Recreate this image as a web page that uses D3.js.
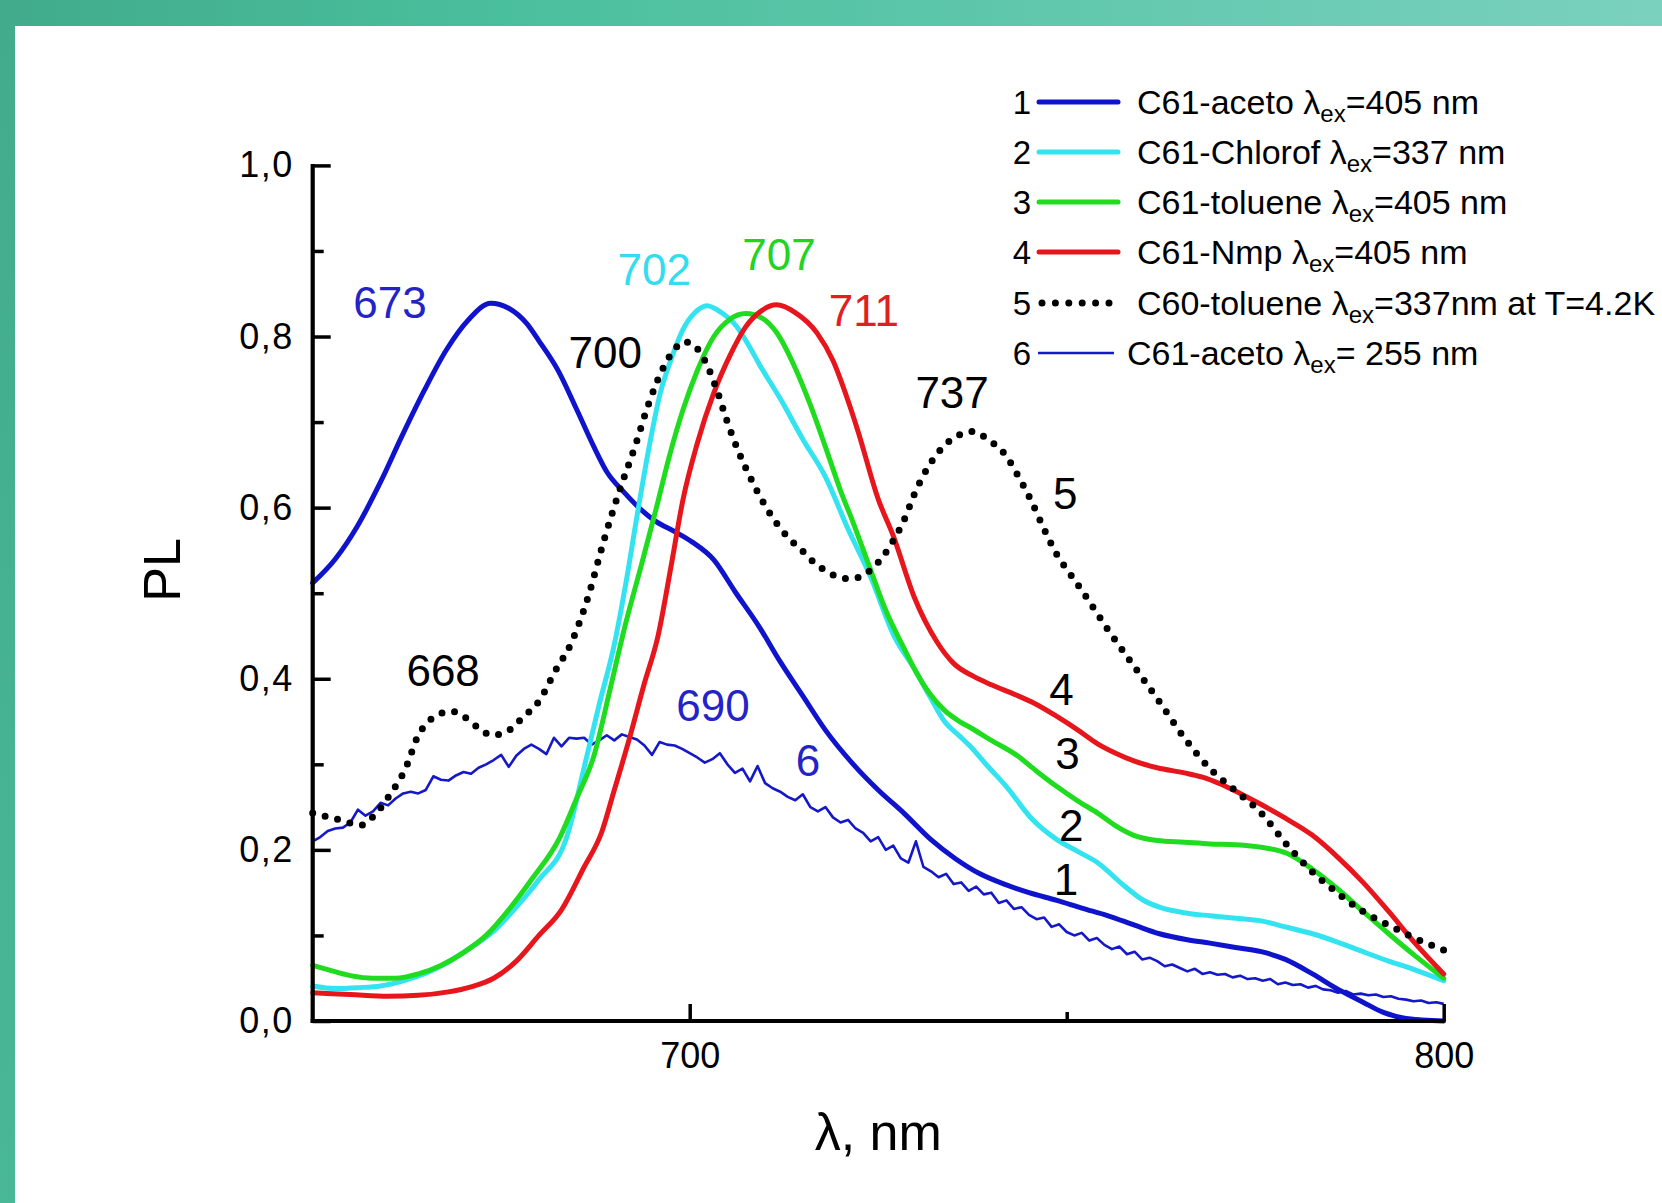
<!DOCTYPE html>
<html>
<head>
<meta charset="utf-8">
<script src="https://cdn.jsdelivr.net/npm/d3@7"></script>
<style>
  html, body { margin: 0; padding: 0; background: #ffffff; }
  svg { display: block; }
  text { font-family: "Liberation Sans", Arial, sans-serif; }
</style>
</head>
<body>
<svg id="chart" width="1662" height="1203"></svg>
<script>
// ---------------- DATA ----------------
const xTickValues = [700, 800];
const xMinorTicks = [750];
const yTickValues = [0, 0.2, 0.4, 0.6, 0.8, 1.0];
const yMinorTicks = [0.1, 0.3, 0.5, 0.7, 0.9];

// Curve 1: C61-aceto λex=405 nm
const wl1 = [650, 653, 655.9, 659, 661.8, 664.8, 667.7, 670.7, 673.6, 676, 678.4, 680, 682.5, 685, 687.3, 689, 691.4, 693.5, 695.5, 698, 700.3, 703.2, 706, 709.2, 712, 715, 718, 721.7, 725, 728.4, 732, 735.2, 738.5, 742, 745, 748.7, 752, 755.5, 759, 762.3, 766, 769, 772.4, 775.8, 779, 782.6, 786, 789.3, 792, 795, 800];
const pl1 = [0.512, 0.54, 0.578, 0.63, 0.683, 0.737, 0.784, 0.82, 0.839, 0.833, 0.815, 0.795, 0.761, 0.715, 0.671, 0.642, 0.617, 0.598, 0.584, 0.572, 0.56, 0.539, 0.502, 0.461, 0.42, 0.38, 0.34, 0.30, 0.27, 0.243, 0.212, 0.19, 0.172, 0.159, 0.15, 0.141, 0.132, 0.123, 0.112, 0.102, 0.095, 0.091, 0.086, 0.081, 0.072, 0.055, 0.037, 0.022, 0.01, 0.003, 0.0];

// Curve 2: C61-Chlorof λex=337 nm
const wl2 = [650, 653, 656, 659, 662, 665, 668, 671, 674, 677, 680, 683.7, 686.1, 688, 690, 691.5, 693.2, 694.6, 696.1, 697.6, 699.1, 700.7, 702.3, 704.2, 706.2, 707.8, 709.2, 712.1, 715, 718, 721, 724, 727.1, 729.9, 731.8, 733.8, 735.8, 737.2, 739.5, 742, 745.3, 748.7, 751.5, 754.1, 757.5, 760, 762.3, 766, 769, 772.4, 775.8, 779, 782.6, 786, 789.3, 792.7, 796.1, 800];
const pl2 = [0.041, 0.038, 0.039, 0.041, 0.047, 0.056, 0.069, 0.086, 0.105, 0.133, 0.165, 0.215, 0.30, 0.37, 0.44, 0.51, 0.60, 0.67, 0.734, 0.775, 0.808, 0.828, 0.836, 0.828, 0.812, 0.79, 0.768, 0.726, 0.68, 0.636, 0.575, 0.519, 0.45, 0.41, 0.38, 0.35, 0.333, 0.321, 0.298, 0.274, 0.237, 0.212, 0.198, 0.185, 0.159, 0.142, 0.133, 0.126, 0.123, 0.12, 0.117, 0.11, 0.102, 0.092, 0.081, 0.07, 0.06, 0.047];

// Curve 3: C61-toluene λex=405 nm
const wl3 = [650, 652, 655, 658, 661, 664, 667, 670, 673, 676, 679, 682.8, 685, 687.3, 689.5, 691.4, 693.5, 695.5, 697.3, 699.1, 701, 703.2, 705.3, 707.4, 709.7, 711.5, 713.9, 716, 718, 720, 721.7, 724, 726, 728.4, 729.9, 731.8, 733.8, 735.8, 737.2, 740, 743.3, 746, 748.7, 751.5, 754.1, 756.5, 758.9, 762, 765.6, 769, 772.4, 775.8, 779.2, 782.5, 786, 789.3, 792.7, 796.1, 800];
const pl3 = [0.065, 0.06, 0.053, 0.05, 0.05, 0.055, 0.065, 0.08, 0.10, 0.13, 0.165, 0.215, 0.26, 0.31, 0.39, 0.461, 0.53, 0.597, 0.66, 0.714, 0.76, 0.80, 0.82, 0.827, 0.821, 0.805, 0.765, 0.72, 0.671, 0.62, 0.582, 0.527, 0.48, 0.436, 0.41, 0.383, 0.363, 0.35, 0.343, 0.328, 0.311, 0.292, 0.274, 0.257, 0.243, 0.228, 0.217, 0.211, 0.209, 0.207, 0.206, 0.203, 0.196, 0.178, 0.154, 0.128, 0.102, 0.077, 0.05];

// Curve 4: C61-Nmp λex=405 nm
const wl4 = [650, 655, 660, 664, 668, 671, 674, 677, 680, 683, 686, 688.3, 690, 692, 694, 695.8, 697.5, 699.1, 701, 703.2, 705.3, 707.4, 709.5, 711.5, 714, 716.9, 719, 721, 722.3, 725, 727, 729.8, 732.8, 735, 737.6, 740, 743.3, 746, 748.7, 751.5, 754.1, 756.5, 758.9, 762, 765.6, 768, 770.4, 773, 775.8, 779, 782.6, 786, 789.3, 792.7, 796.1, 800];
const pl4 = [0.033, 0.031, 0.029, 0.03, 0.034, 0.04, 0.05, 0.07, 0.10, 0.13, 0.18, 0.22, 0.27, 0.33, 0.395, 0.45, 0.53, 0.609, 0.675, 0.734, 0.777, 0.811, 0.83, 0.837, 0.828, 0.804, 0.772, 0.725, 0.69, 0.61, 0.567, 0.495, 0.443, 0.418, 0.403, 0.393, 0.381, 0.37, 0.356, 0.34, 0.324, 0.313, 0.304, 0.296, 0.29, 0.285, 0.277, 0.266, 0.253, 0.237, 0.217, 0.191, 0.162, 0.128, 0.092, 0.055];

// Curve 5: C60-toluene λex=337nm at T=4.2K (dotted)
const wl5 = [650, 653.6, 656.5, 657.8, 660.2, 662.5, 663.8, 665.6, 668.4, 670, 672.2, 673.7, 675.5, 677.9, 680.1, 682.1, 684.3, 686.5, 688.6, 690.5, 692.8, 694.5, 696.3, 698, 699.2, 700.5, 702, 703.5, 705, 706.5, 708.1, 709.7, 711.5, 713.3, 714.9, 716.6, 718.3, 720, 721.5, 723.2, 725.1, 726.7, 728.4, 730, 731.8, 733.5, 735.5, 737.5, 739.5, 742, 743.5, 745.3, 747, 748.7, 750.5, 752.1, 755.5, 758.9, 762.3, 765.6, 769, 772.4, 775.8, 779.2, 782.5, 786, 789.3, 792.7, 796.1, 800];
const pl5 = [0.243, 0.235, 0.229, 0.237, 0.264, 0.299, 0.33, 0.352, 0.362, 0.356, 0.341, 0.334, 0.337, 0.355, 0.375, 0.408, 0.442, 0.495, 0.561, 0.615, 0.673, 0.72, 0.76, 0.785, 0.794, 0.79, 0.772, 0.74, 0.70, 0.665, 0.634, 0.607, 0.582, 0.563, 0.55, 0.535, 0.525, 0.518, 0.517, 0.522, 0.537, 0.557, 0.585, 0.62, 0.65, 0.67, 0.684, 0.689, 0.68, 0.66, 0.638, 0.608, 0.575, 0.545, 0.522, 0.502, 0.457, 0.415, 0.373, 0.331, 0.295, 0.269, 0.243, 0.206, 0.175, 0.149, 0.128, 0.112, 0.097, 0.083];

// Curve 6: C61-aceto λex= 255 nm (noisy, 1 nm step from 650 to 800)
const wl6 = d3.range(650, 801, 1);
const pl6 = [
  0.210, 0.215, 0.222, 0.225, 0.226, 0.232, 0.247, 0.240, 0.245, 0.255,
  0.252, 0.260, 0.266, 0.268, 0.266, 0.270, 0.286, 0.282, 0.281, 0.287,
  0.291, 0.289, 0.296, 0.300, 0.305, 0.311, 0.297, 0.310, 0.318, 0.323,
  0.318, 0.312, 0.331, 0.321, 0.331, 0.330, 0.331, 0.323, 0.328, 0.334,
  0.328, 0.335, 0.332, 0.329, 0.322, 0.311, 0.326, 0.323, 0.322, 0.318,
  0.313, 0.308, 0.302, 0.306, 0.313, 0.300, 0.290, 0.295, 0.280, 0.298,
  0.278, 0.272, 0.268, 0.262, 0.258, 0.265, 0.250, 0.245, 0.250, 0.238,
  0.232, 0.235, 0.225, 0.220, 0.210, 0.215, 0.200, 0.205, 0.190, 0.185,
  0.210, 0.180, 0.175, 0.168, 0.172, 0.160, 0.162, 0.152, 0.157, 0.148,
  0.150, 0.138, 0.141, 0.131, 0.133, 0.124, 0.119, 0.121, 0.110, 0.113,
  0.104, 0.100, 0.103, 0.094, 0.097, 0.089, 0.084, 0.087, 0.078, 0.081,
  0.072, 0.074, 0.070, 0.064, 0.066, 0.062, 0.058, 0.061, 0.055, 0.057,
  0.054, 0.055, 0.051, 0.053, 0.049, 0.050, 0.047, 0.049, 0.043, 0.045,
  0.042, 0.043, 0.039, 0.041, 0.037, 0.036, 0.033, 0.035, 0.031, 0.032,
  0.030, 0.031, 0.028, 0.029, 0.026, 0.025, 0.023, 0.024, 0.021, 0.022,
  0.020
];

const seriesNames = ["1", "2", "3", "4", "5", "6"];
const seriesColors = ["#0f14cc", "#33e4f0", "#1fdc1f", "#e6161c", "#000000", "#1418c8"];
const legendPrefix = ["C61-aceto \u03bb", "C61-Chlorof \u03bb", "C61-toluene \u03bb", "C61-Nmp \u03bb", "C60-toluene \u03bb", "C61-aceto \u03bb"];
const legendSub = ["ex", "ex", "ex", "ex", "ex", "ex"];
const legendSuffix = ["=405 nm", "=337 nm", "=405 nm", "=405 nm", "=337nm at T=4.2K", "= 255 nm"];

// Peak / curve annotations: text, wavelength, PL value
const annoText = ["673", "702", "707", "711", "700", "737", "5", "668", "690", "6", "4", "3", "2", "1"];
const annoWl   = [660.25, 695.3, 711.85, 723.1, 688.8, 734.8, 749.8, 667.3, 703.1, 715.7, 749.3, 750.1, 750.6, 749.9];
const annoPl   = [0.840, 0.878, 0.896, 0.830, 0.781, 0.735, 0.617, 0.410, 0.369, 0.304, 0.388, 0.313, 0.229, 0.165];
const annoColor = ["#2323c8", "#33dcee", "#22d322", "#e0201e", "#000", "#000", "#000", "#000", "#2323c8", "#2323c8", "#000", "#000", "#000", "#000"];

const xLabel = "\u03bb, nm";
const yLabel = "PL";

// ---------------- DRAW ----------------
const svg = d3.select("#chart");

// decorative frame
const defs = svg.append("defs");
const gTop = defs.append("linearGradient").attr("id", "gTop").attr("x1", "0").attr("x2", "1").attr("y1", "0").attr("y2", "0");
gTop.append("stop").attr("offset", "0").attr("stop-color", "#41ab8b");
gTop.append("stop").attr("offset", "0.3").attr("stop-color", "#4abf9d");
gTop.append("stop").attr("offset", "1").attr("stop-color", "#7ad1be");
const gLeft = defs.append("linearGradient").attr("id", "gLeft").attr("x1", "0").attr("x2", "0").attr("y1", "0").attr("y2", "1");
gLeft.append("stop").attr("offset", "0").attr("stop-color", "#42ab8c");
gLeft.append("stop").attr("offset", "1").attr("stop-color", "#49b896");
svg.append("rect").attr("x", 0).attr("y", 0).attr("width", 1662).attr("height", 26).attr("fill", "url(#gTop)");
svg.append("rect").attr("x", 0).attr("y", 0).attr("width", 15).attr("height", 1203).attr("fill", "url(#gLeft)");

const plot = { left: 312.7, right: 1443.7, top: 165.4, bottom: 1021 };
const x = d3.scaleLinear().domain([650, 800]).range([plot.left, plot.right]);
const y = d3.scaleLinear().domain([0, 1.0]).range([plot.bottom, plot.top]);

const fmt = v => d3.format(".1f")(v).replace(".", ",");

// curves
const line = d3.line().x(d => x(d[0])).y(d => y(d[1])).curve(d3.curveMonotoneX);
const lineRaw = d3.line().x(d => x(d[0])).y(d => y(d[1])).curve(d3.curveLinear);
const zip = (a, b) => a.map((v, i) => [v, b[i]]);

const gCurves = svg.append("g");
gCurves.append("path").datum(zip(wl6, pl6)).attr("d", lineRaw)
  .attr("fill", "none").attr("stroke", seriesColors[5]).attr("stroke-width", 2.6).attr("stroke-linejoin", "round");
const smooth = [[wl1, pl1, 0], [wl2, pl2, 1], [wl3, pl3, 2], [wl4, pl4, 3]];
smooth.forEach(([w, p, i]) => {
  gCurves.append("path").datum(zip(w, p)).attr("d", line)
    .attr("fill", "none").attr("stroke", seriesColors[i]).attr("stroke-width", 5)
    .attr("stroke-linejoin", "round").attr("stroke-linecap", "round");
});
gCurves.append("path").datum(zip(wl5, pl5)).attr("d", line)
  .attr("fill", "none").attr("stroke", seriesColors[4]).attr("stroke-width", 7)
  .attr("stroke-linecap", "round").attr("stroke-dasharray", "0 12.8");

// axes
const axisG = svg.append("g");
const yAxis = d3.axisLeft(y).tickValues(yTickValues).tickSizeInner(-18).tickSizeOuter(0).tickPadding(19).tickFormat(fmt);
const yAxisMinor = d3.axisLeft(y).tickValues(yMinorTicks).tickSizeInner(-11).tickSizeOuter(0).tickFormat("");
const xAxis = d3.axisBottom(x).tickValues(xTickValues).tickSizeInner(-17).tickSizeOuter(0).tickPadding(21).tickFormat(d3.format("d"));
const xAxisMinor = d3.axisBottom(x).tickValues(xMinorTicks).tickSizeInner(-9).tickSizeOuter(0).tickFormat("");

const gy = axisG.append("g").attr("transform", `translate(${plot.left},0)`).call(yAxis);
const gym = axisG.append("g").attr("transform", `translate(${plot.left},0)`).call(yAxisMinor);
const gx = axisG.append("g").attr("transform", `translate(0,${plot.bottom})`).call(xAxis);
const gxm = axisG.append("g").attr("transform", `translate(0,${plot.bottom})`).call(xAxisMinor);
[gy, gym, gx, gxm].forEach(g => {
  g.select(".domain").remove();
  g.selectAll(".tick line").attr("stroke", "#000").attr("stroke-width", 3.5);
});
gy.selectAll(".tick text").attr("font-size", 36).attr("fill", "#000").attr("font-family", "'Liberation Sans', Arial, sans-serif").attr("letter-spacing", 1.5);
gx.selectAll(".tick text").attr("font-size", 36).attr("fill", "#000").attr("font-family", "'Liberation Sans', Arial, sans-serif");
// axis lines
axisG.append("line").attr("x1", x(650)).attr("x2", x(650)).attr("y1", y(1.0) - 1.5).attr("y2", y(0) + 2)
  .attr("stroke", "#000").attr("stroke-width", 4.2);
axisG.append("line").attr("x1", x(650) - 2).attr("x2", x(800) + 1).attr("y1", y(0)).attr("y2", y(0))
  .attr("stroke", "#000").attr("stroke-width", 4.2);

// axis titles
svg.append("text").attr("x", (plot.left + plot.right) / 2).attr("y", 1150)
  .attr("text-anchor", "middle").attr("font-size", 52).attr("fill", "#000").text(xLabel);
svg.append("text").attr("transform", "translate(180,570) rotate(-90)")
  .attr("text-anchor", "middle").attr("font-size", 52).attr("fill", "#000").text(yLabel);

// annotations
svg.append("g").selectAll("text").data(annoText).join("text")
  .attr("x", (d, i) => x(annoWl[i])).attr("y", (d, i) => y(annoPl[i]))
  .attr("text-anchor", "middle").attr("dominant-baseline", "central")
  .attr("font-size", 44).attr("fill", (d, i) => annoColor[i]).text(d => d);

// legend
const legendRowsY = [102, 152, 202, 252, 303, 353];
const lg = svg.append("g");
seriesNames.forEach((name, i) => {
  const ry = legendRowsY[i];
  lg.append("text").attr("x", 1031).attr("y", ry).attr("text-anchor", "end").attr("dominant-baseline", "central")
    .attr("font-size", 33).attr("fill", "#000").text(name);
  if (i === 4) {
    lg.append("line").attr("x1", 1042).attr("x2", 1110).attr("y1", ry).attr("y2", ry)
      .attr("stroke", seriesColors[i]).attr("stroke-width", 7).attr("stroke-linecap", "round").attr("stroke-dasharray", "0 13.4");
  } else if (i === 5) {
    lg.append("line").attr("x1", 1038).attr("x2", 1114).attr("y1", ry).attr("y2", ry)
      .attr("stroke", seriesColors[i]).attr("stroke-width", 2.6);
  } else {
    lg.append("line").attr("x1", 1039).attr("x2", 1118).attr("y1", ry).attr("y2", ry)
      .attr("stroke", seriesColors[i]).attr("stroke-width", 5).attr("stroke-linecap", "round");
  }
  const t = lg.append("text").attr("x", i === 5 ? 1127 : 1137).attr("y", ry + 12)
    .attr("font-size", 34).attr("fill", "#000");
  t.append("tspan").text(legendPrefix[i]);
  t.append("tspan").attr("dy", 8).attr("font-size", 24).text(legendSub[i]);
  t.append("tspan").attr("dy", -8).text(legendSuffix[i]);
});
</script>
</body>
</html>
